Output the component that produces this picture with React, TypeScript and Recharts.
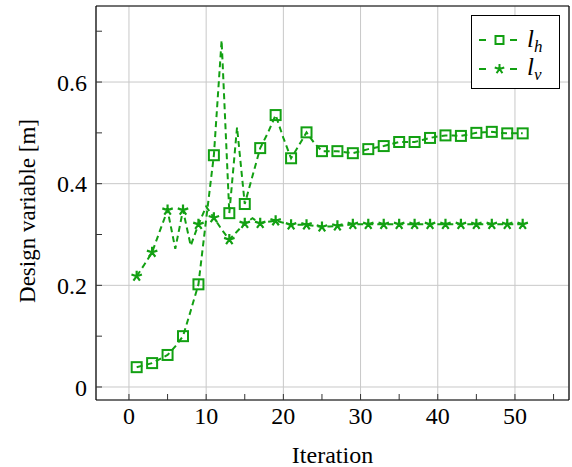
import React from 'react';
import {
  LineChart,
  Line,
  XAxis,
  YAxis,
  CartesianGrid,
  Legend,
  Label,
} from 'recharts';

const iterations: number[] = Array.from({ length: 51 }, (_, i) => i + 1);

const lhValues: number[] = [
  0.039, 0.043, 0.047, 0.055, 0.063, 0.08, 0.1, 0.15, 0.202, 0.33,
  0.456, 0.682, 0.342, 0.511, 0.36, 0.415, 0.47, 0.5, 0.535, 0.49,
  0.45, 0.475, 0.501, 0.48, 0.464, 0.464, 0.464, 0.462, 0.46, 0.464,
  0.468, 0.471, 0.474, 0.478, 0.482, 0.482, 0.482, 0.486, 0.49, 0.493,
  0.495, 0.495, 0.494, 0.497, 0.5, 0.501, 0.502, 0.5, 0.499, 0.499,
  0.499,
];

const lvValues: number[] = [
  0.218, 0.241, 0.265, 0.307, 0.348, 0.272, 0.348, 0.278, 0.32, 0.355,
  0.333, 0.31, 0.29, 0.306, 0.322, 0.332, 0.322, 0.325, 0.327, 0.323,
  0.319, 0.319, 0.319, 0.317, 0.315, 0.316, 0.317, 0.318, 0.32, 0.32,
  0.32, 0.32, 0.32, 0.32, 0.32, 0.32, 0.32, 0.32, 0.32, 0.32,
  0.32, 0.32, 0.32, 0.32, 0.32, 0.32, 0.32, 0.32, 0.32, 0.32,
  0.32,
];

const xMajorTicks: number[] = [0, 10, 20, 30, 40, 50];
const xAllTicks: number[] = [0, 5, 10, 15, 20, 25, 30, 35, 40, 45, 50, 55];
const yMajorTicks: number[] = [0, 0.2, 0.4, 0.6];
const yAllTicks: number[] = [0, 0.1, 0.2, 0.3, 0.4, 0.5, 0.6, 0.7];

const xDomain: [number, number] = [-4.27, 57];
const yDomain: [number, number] = [-0.0256, 0.7496];

const data = iterations.map((it, i) => ({ it, lh: lhValues[i], lv: lvValues[i] }));

const GREEN = '#12a012';
const FONT = '"Liberation Serif", "Times New Roman", serif';

const SquareDot = (props: any) => {
  const { cx, cy, index } = props;
  if (index % 2 !== 0 || cx == null || cy == null) return <g key={`s${index}`} />;
  return (
    <rect
      key={`s${index}`}
      x={cx - 5}
      y={cy - 5}
      width={10}
      height={10}
      fill="none"
      stroke={GREEN}
      strokeWidth={2}
    />
  );
};

const starPath = (cx: number, cy: number, r: number) => {
  let d = '';
  for (let k = 0; k < 5; k++) {
    const a = (-90 + 72 * k) * (Math.PI / 180);
    d += `M${cx},${cy}L${cx + r * Math.cos(a)},${cy + r * Math.sin(a)}`;
  }
  return d;
};

const StarDot = (props: any) => {
  const { cx, cy, index } = props;
  if (index % 2 !== 0 || cx == null || cy == null) return <g key={`t${index}`} />;
  return (
    <path key={`t${index}`} d={starPath(cx, cy, 5.5)} stroke={GREEN} strokeWidth={2.2} fill="none" />
  );
};

const LegendBox = () => (
  <div
    style={{
      width: 87,
      height: 72,
      border: '1px solid #000',
      background: '#fff',
    }}
  >
    <svg width={87} height={72} style={{ display: 'block' }}>
      <line x1={7} x2={14} y1={24} y2={24} stroke={GREEN} strokeWidth={2} />
      <rect x={23.5} y={20} width={8} height={8} fill="none" stroke={GREEN} strokeWidth={2} />
      <line x1={38} x2={45} y1={24} y2={24} stroke={GREEN} strokeWidth={2} />
      <text x={55} y={31} fontFamily={FONT} fontStyle="italic" fontSize={25} fill="#000">
        l<tspan fontSize={17} dy={5}>h</tspan>
      </text>
      <line x1={7} x2={14} y1={53} y2={53} stroke={GREEN} strokeWidth={2} />
      <path d={starPath(27.5, 53, 5)} stroke={GREEN} strokeWidth={2} fill="none" />
      <line x1={38} x2={45} y1={53} y2={53} stroke={GREEN} strokeWidth={2} />
      <text x={55} y={59} fontFamily={FONT} fontStyle="italic" fontSize={25} fill="#000">
        l<tspan fontSize={17} dy={5}>v</tspan>
      </text>
    </svg>
  </div>
);

const YLabel = (props: any) => {
  const vb = props.viewBox || { x: 0, y: 0, width: 96, height: 394 };
  const cx = vb.x + 27;
  const cy = vb.y + vb.height / 2 + 8;
  return (
    <text
      x={cx}
      y={cy}
      transform={`rotate(-90, ${cx}, ${cy})`}
      textAnchor="middle"
      dominantBaseline="central"
      fontFamily={FONT}
      fontSize={23}
      fill="#000"
    >
      Design variable [m]
    </text>
  );
};

const fmtX = (v: number) => (v % 10 === 0 ? String(v) : '');
const fmtY = (v: number) => {
  const r = Math.round(v * 10);
  if (r % 2 !== 0) return '';
  return r === 0 ? '0' : (r / 10).toFixed(1);
};

export default function App() {
  return (
    <div style={{ position: 'absolute', left: 0, top: 0, width: 572, height: 467, background: '#fff' }}>
      <LineChart
        width={572}
        height={467}
        data={data}
        margin={{ top: 5, right: 2, left: 0, bottom: 0 }}
      >
        <XAxis xAxisId="gx" dataKey="it" type="number" domain={xDomain} ticks={xMajorTicks} allowDataOverflow hide />
        <YAxis yAxisId="gy" type="number" domain={yDomain} ticks={yMajorTicks} allowDataOverflow hide />
        <CartesianGrid xAxisId="gx" yAxisId="gy" stroke="#c8c8c8" strokeWidth={1} />
        <XAxis
          dataKey="it"
          type="number"
          domain={xDomain}
          ticks={xAllTicks}
          allowDataOverflow
          interval={0}
          height={67}
          tickSize={-6}
          tickMargin={13}
          tickFormatter={fmtX}
          tick={{ fontFamily: FONT, fontSize: 24, fill: '#000' }}
          axisLine={{ stroke: '#000', strokeWidth: 1.2 }}
          tickLine={{ stroke: '#333', strokeWidth: 1 }}
        >
          <Label value="Iteration" position="insideBottom" offset={4} style={{ fontFamily: FONT, fontSize: 24, fill: '#000' }} />
        </XAxis>
        <XAxis
          xAxisId="top"
          orientation="top"
          dataKey="it"
          type="number"
          domain={xDomain}
          ticks={xAllTicks}
          allowDataOverflow
          interval={0}
          height={1}
          tickSize={-6}
          tick={false}
          axisLine={{ stroke: '#000', strokeWidth: 1.2 }}
          tickLine={{ stroke: '#333', strokeWidth: 1 }}
        />
        <YAxis
          type="number"
          domain={yDomain}
          ticks={yAllTicks}
          allowDataOverflow
          interval={0}
          width={96}
          tickSize={-6}
          tickMargin={15}
          tickFormatter={fmtY}
          tick={{ fontFamily: FONT, fontSize: 24, fill: '#000' }}
          axisLine={{ stroke: '#000', strokeWidth: 1.2 }}
          tickLine={{ stroke: '#333', strokeWidth: 1 }}
        >
          <Label content={<YLabel />} />
        </YAxis>
        <YAxis
          yAxisId="right"
          orientation="right"
          type="number"
          domain={yDomain}
          ticks={yAllTicks}
          allowDataOverflow
          interval={0}
          width={1}
          tickSize={-6}
          tick={false}
          axisLine={{ stroke: '#000', strokeWidth: 1.2 }}
          tickLine={{ stroke: '#333', strokeWidth: 1 }}
        />
        <Line
          dataKey="lh"
          name="l_h"
          stroke={GREEN}
          strokeWidth={2}
          strokeDasharray="6 4"
          type="linear"
          dot={SquareDot}
          activeDot={false}
          isAnimationActive={false}
        />
        <Line
          dataKey="lv"
          name="l_v"
          stroke={GREEN}
          strokeWidth={2}
          strokeDasharray="6 4"
          type="linear"
          dot={StarDot}
          activeDot={false}
          isAnimationActive={false}
        />
        <Legend
          layout="vertical"
          align="center"
          verticalAlign="middle"
          content={() => <LegendBox />}
          wrapperStyle={{ position: 'absolute', left: 471, top: 15, width: 89, height: 74 }}
        />
      </LineChart>
    </div>
  );
}
